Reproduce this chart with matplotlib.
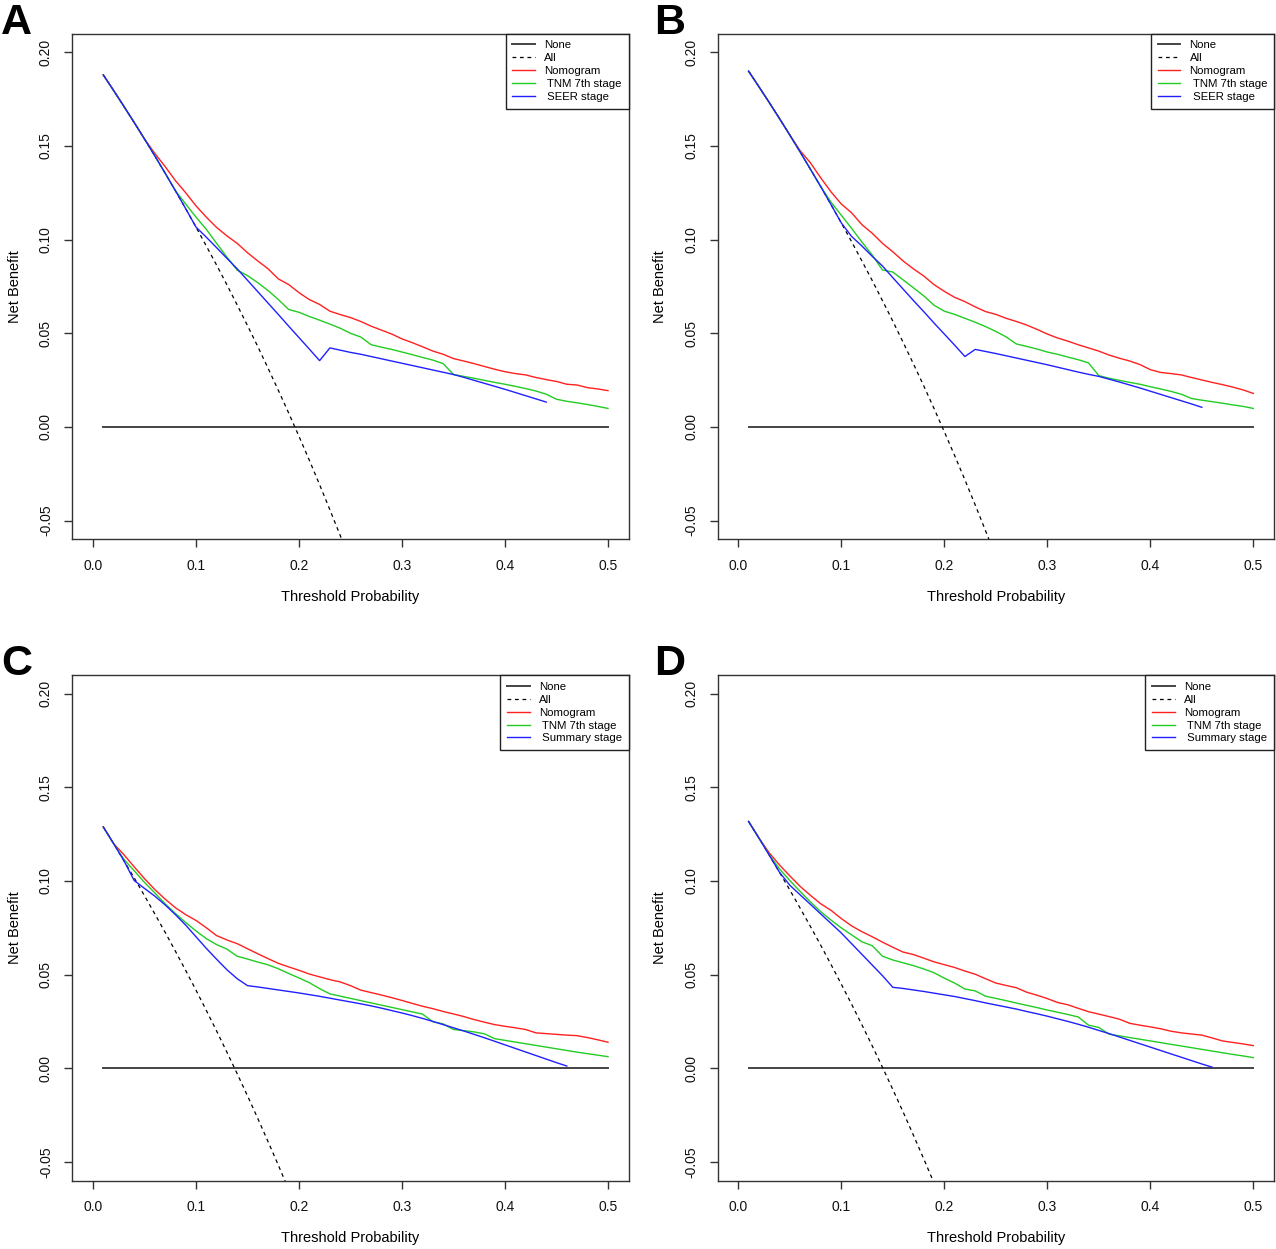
import numpy as np
import matplotlib.pyplot as plt

plt.rcParams["font.family"] = ["Liberation Sans", "DejaVu Sans"]

############################
# DATA
############################

# threshold grid used by the decision curves
thr = np.arange(1, 51) / 100

# Panel A
all_A = [0.1879, 0.1796, 0.1711, 0.1625, 0.1537, 0.1447, 0.1355, 0.1261, 0.1165, 0.1067,
         0.0966, 0.0864, 0.0759, 0.0651, 0.0541, 0.0429, 0.0313, 0.0195, 0.0074, -0.0050,
         -0.0177, -0.0308, -0.0442, -0.0579, -0.0720]
nomo_A = [0.1879, 0.1796, 0.1711, 0.1625, 0.1537, 0.1460, 0.1390, 0.1315, 0.1250, 0.1180,
          0.1120, 0.1065, 0.1020, 0.0980, 0.0930, 0.0886, 0.0844, 0.0790, 0.0760, 0.0717,
          0.0680, 0.0654, 0.0618, 0.0600, 0.0584, 0.0563, 0.0538, 0.0517, 0.0496, 0.0470,
          0.0450, 0.0428, 0.0405, 0.0388, 0.0365, 0.0352, 0.0338, 0.0323, 0.0308, 0.0295,
          0.0285, 0.0278, 0.0264, 0.0253, 0.0243, 0.0228, 0.0224, 0.0210, 0.0203, 0.0194]
tnm_A = [0.1879, 0.1796, 0.1711, 0.1625, 0.1537, 0.1447, 0.1355, 0.1261, 0.1190, 0.1120,
         0.1055, 0.0980, 0.0907, 0.0837, 0.0808, 0.0770, 0.0728, 0.0680, 0.0627, 0.0612,
         0.0590, 0.0570, 0.0549, 0.0527, 0.0500, 0.0480, 0.0439, 0.0426, 0.0414, 0.0400,
         0.0386, 0.0371, 0.0357, 0.0338, 0.0280, 0.0270, 0.0260, 0.0249, 0.0238, 0.0228,
         0.0217, 0.0205, 0.0192, 0.0175, 0.0148, 0.0137, 0.0129, 0.0120, 0.0110, 0.0099]
seer_A = [0.1879, 0.1796, 0.1711, 0.1625, 0.1537, 0.1447, 0.1355, 0.1261, 0.1165, 0.1067,
          0.1013, 0.0957, 0.0900, 0.0844, 0.0783, 0.0722, 0.0661, 0.0600, 0.0538, 0.0477,
          0.0416, 0.0354, 0.0422, 0.0410, 0.0398, 0.0388, 0.0376, 0.0364, 0.0352, 0.0340,
          0.0328, 0.0316, 0.0304, 0.0292, 0.0280, 0.0265, 0.0249, 0.0233, 0.0217, 0.0201,
          0.0184, 0.0167, 0.0150, 0.0133]

# Panel B
all_B = [0.1899, 0.1816, 0.1732, 0.1646, 0.1558, 0.1468, 0.1376, 0.1283, 0.1187, 0.1089,
         0.0989, 0.0886, 0.0782, 0.0674, 0.0565, 0.0452, 0.0337, 0.0220, 0.0099, -0.0025,
         -0.0152, -0.0282, -0.0416, -0.0553, -0.0693]
nomo_B = [0.1899, 0.1816, 0.1732, 0.1646, 0.1558, 0.1475, 0.1410, 0.1330, 0.1255, 0.1190,
          0.1143, 0.1080, 0.1034, 0.0980, 0.0935, 0.0886, 0.0844, 0.0806, 0.0760, 0.0724,
          0.0692, 0.0669, 0.0641, 0.0616, 0.0601, 0.0580, 0.0563, 0.0544, 0.0521, 0.0496,
          0.0475, 0.0458, 0.0439, 0.0422, 0.0405, 0.0384, 0.0367, 0.0352, 0.0333, 0.0306,
          0.0291, 0.0285, 0.0278, 0.0264, 0.0251, 0.0238, 0.0226, 0.0213, 0.0198, 0.0179]
tnm_B = [0.1899, 0.1816, 0.1732, 0.1646, 0.1558, 0.1468, 0.1376, 0.1283, 0.1200, 0.1130,
         0.1060, 0.0987, 0.0918, 0.0838, 0.0827, 0.0785, 0.0743, 0.0700, 0.0650, 0.0618,
         0.0601, 0.0580, 0.0559, 0.0536, 0.0510, 0.0481, 0.0443, 0.0430, 0.0416, 0.0400,
         0.0388, 0.0373, 0.0359, 0.0342, 0.0274, 0.0260, 0.0249, 0.0238, 0.0228, 0.0215,
         0.0203, 0.0190, 0.0175, 0.0152, 0.0143, 0.0135, 0.0127, 0.0118, 0.0110, 0.0099]
seer_B = [0.1899, 0.1816, 0.1732, 0.1646, 0.1558, 0.1468, 0.1376, 0.1283, 0.1187, 0.1089,
          0.1017, 0.0966, 0.0911, 0.0859, 0.0797, 0.0736, 0.0675, 0.0616, 0.0555, 0.0496,
          0.0437, 0.0376, 0.0414, 0.0403, 0.0392, 0.0380, 0.0368, 0.0356, 0.0344, 0.0332,
          0.0319, 0.0306, 0.0293, 0.0281, 0.0270, 0.0255, 0.0240, 0.0224, 0.0208, 0.0191,
          0.0174, 0.0157, 0.0140, 0.0123, 0.0105]

# Panel C
all_C = [0.1288, 0.1199, 0.1108, 0.1016, 0.0921, 0.0824, 0.0726, 0.0625, 0.0522, 0.0417,
         0.0309, 0.0199, 0.0086, -0.0029, -0.0147, -0.0268, -0.0392, -0.0518, -0.0648, -0.0781]
nomo_C = [0.1288, 0.1199, 0.1140, 0.1075, 0.1012, 0.0954, 0.0903, 0.0857, 0.0820, 0.0789,
          0.0750, 0.0708, 0.0685, 0.0665, 0.0638, 0.0611, 0.0585, 0.0560, 0.0541, 0.0523,
          0.0503, 0.0488, 0.0473, 0.0461, 0.0441, 0.0417, 0.0404, 0.0391, 0.0377, 0.0362,
          0.0346, 0.0331, 0.0318, 0.0303, 0.0290, 0.0276, 0.0260, 0.0246, 0.0233, 0.0224,
          0.0216, 0.0207, 0.0189, 0.0185, 0.0181, 0.0177, 0.0174, 0.0164, 0.0152, 0.0139]
tnm_C = [0.1288, 0.1199, 0.1115, 0.1054, 0.0992, 0.0936, 0.0878, 0.0826, 0.0778, 0.0733,
         0.0692, 0.0660, 0.0636, 0.0598, 0.0583, 0.0567, 0.0552, 0.0531, 0.0506, 0.0482,
         0.0457, 0.0425, 0.0397, 0.0385, 0.0373, 0.0361, 0.0349, 0.0337, 0.0325, 0.0313,
         0.0301, 0.0289, 0.0248, 0.0237, 0.0207, 0.0201, 0.0194, 0.0184, 0.0158, 0.0149,
         0.0140, 0.0131, 0.0122, 0.0113, 0.0104, 0.0095, 0.0086, 0.0078, 0.0070, 0.0062]
summ_C = [0.1288, 0.1199, 0.1108, 0.1002, 0.0960, 0.0919, 0.0872, 0.0820, 0.0764, 0.0702,
          0.0640, 0.0582, 0.0526, 0.0478, 0.0441, 0.0434, 0.0426, 0.0418, 0.0410, 0.0402,
          0.0393, 0.0384, 0.0374, 0.0364, 0.0354, 0.0344, 0.0333, 0.0321, 0.0308, 0.0295,
          0.0281, 0.0266, 0.0250, 0.0233, 0.0216, 0.0199, 0.0181, 0.0163, 0.0144, 0.0125,
          0.0106, 0.0087, 0.0068, 0.0049, 0.0030, 0.0012]

# Panel D
all_D = [0.1317, 0.1229, 0.1138, 0.1046, 0.0952, 0.0855, 0.0757, 0.0657, 0.0554, 0.0449,
         0.0342, 0.0232, 0.0120, 0.0005, -0.0113, -0.0233, -0.0357, -0.0483, -0.0612, -0.0745]
nomo_D = [0.1317, 0.1229, 0.1150, 0.1085, 0.1027, 0.0971, 0.0923, 0.0878, 0.0843, 0.0799,
          0.0760, 0.0729, 0.0702, 0.0673, 0.0646, 0.0620, 0.0607, 0.0588, 0.0568, 0.0553,
          0.0538, 0.0519, 0.0502, 0.0478, 0.0455, 0.0442, 0.0430, 0.0406, 0.0390, 0.0372,
          0.0351, 0.0339, 0.0320, 0.0302, 0.0289, 0.0276, 0.0262, 0.0240, 0.0230, 0.0221,
          0.0211, 0.0198, 0.0189, 0.0183, 0.0177, 0.0162, 0.0146, 0.0138, 0.0130, 0.0121]
tnm_D = [0.1317, 0.1229, 0.1140, 0.1064, 0.1002, 0.0944, 0.0888, 0.0836, 0.0791, 0.0749,
         0.0712, 0.0675, 0.0654, 0.0598, 0.0578, 0.0563, 0.0548, 0.0530, 0.0510, 0.0481,
         0.0455, 0.0423, 0.0413, 0.0385, 0.0373, 0.0361, 0.0348, 0.0336, 0.0324, 0.0311,
         0.0299, 0.0287, 0.0274, 0.0230, 0.0218, 0.0182, 0.0173, 0.0164, 0.0155, 0.0146,
         0.0137, 0.0128, 0.0119, 0.0110, 0.0101, 0.0092, 0.0083, 0.0074, 0.0066, 0.0057]
summ_D = [0.1317, 0.1229, 0.1138, 0.1046, 0.0977, 0.0926, 0.0875, 0.0824, 0.0773, 0.0722,
          0.0665, 0.0608, 0.0551, 0.0494, 0.0432, 0.0426, 0.0418, 0.0410, 0.0401, 0.0392,
          0.0383, 0.0372, 0.0361, 0.0349, 0.0338, 0.0327, 0.0316, 0.0303, 0.0291, 0.0278,
          0.0264, 0.0250, 0.0235, 0.0219, 0.0202, 0.0185, 0.0167, 0.0149, 0.0131, 0.0113,
          0.0095, 0.0077, 0.0059, 0.0041, 0.0023, 0.0006]

x_ticks = [0.0, 0.1, 0.2, 0.3, 0.4, 0.5]
x_tick_labels = ["0.0", "0.1", "0.2", "0.3", "0.4", "0.5"]
y_ticks = [-0.05, 0.0, 0.05, 0.10, 0.15, 0.20]
y_tick_labels = ["-0.05", "0.00", "0.05", "0.10", "0.15", "0.20"]

############################
# LAYOUT (pixels of the 1276x1249 figure)
############################

W, H = 1276, 1249


def rect(left, right, top, bottom):
    return [left / W, 1 - bottom / H, (right - left) / W, (bottom - top) / H]


def panel(fig, box, letter, letter_xy, all_y, nomo, tnm, third, third_label):
    ax = fig.add_axes(box)
    ax.plot([0.01, 0.5], [0, 0], color="#444444", lw=1.4, label="None")
    ax.plot(thr[:len(all_y)], all_y, color="black", ls=(0, (3, 3)), lw=0.9, label="All")
    ax.plot(thr[:len(nomo)], nomo, color="#FF2020", lw=1.0, label="Nomogram")
    ax.plot(thr[:len(tnm)], tnm, color="#22CC22", lw=1.0, label=" TNM 7th stage")
    ax.plot(thr[:len(third)], third, color="#2020FF", lw=1.0, label=third_label)

    ax.set_xlim(-0.02, 0.52)
    ax.set_ylim(-0.06, 0.21)
    ax.set_xticks(x_ticks)
    ax.set_xticklabels(x_tick_labels)
    ax.set_yticks(y_ticks)
    ax.set_yticklabels(y_tick_labels, rotation=90, va="center")
    ax.tick_params(direction="out", length=6, width=1, color="#333333",
                   labelsize=10, labelcolor="#111111", pad=8)
    for s in ax.spines.values():
        s.set_color("#333333")
        s.set_linewidth(1.0)

    ax.set_xlabel("Threshold Probability", fontsize=10.5, va="center")
    ax.xaxis.set_label_coords(0.5, -0.114)
    ax.set_ylabel("Net Benefit", fontsize=10.5, va="center")
    ax.yaxis.set_label_coords(-0.103, 0.5)

    leg = ax.legend(loc="upper right", borderaxespad=0, fontsize=8.2, fancybox=False,
                    framealpha=1, edgecolor="#222222", handlelength=2.0,
                    handletextpad=0.8, labelspacing=0.26, borderpad=0.6)
    leg.get_frame().set_linewidth(1.0)

    fig.text(letter_xy[0] / W, 1 - letter_xy[1] / H, letter, fontsize=31,
             fontweight="bold", ha="left", va="top")
    return ax


fig = plt.figure(figsize=(W / 100, H / 100), dpi=100)

panel(fig, rect(72.4, 628.6, 33.5, 539.4), "A", (1, 3),
      all_A, nomo_A, tnm_A, seer_A, " SEER stage")
panel(fig, rect(717.7, 1273.9, 33.5, 539.4), "B", (654, 3),
      all_B, nomo_B, tnm_B, seer_B, " SEER stage")
panel(fig, rect(72.4, 628.6, 674.8, 1180.7), "C", (1, 644),
      all_C, nomo_C, tnm_C, summ_C, " Summary stage")
panel(fig, rect(717.7, 1273.9, 674.8, 1180.7), "D", (654, 644),
      all_D, nomo_D, tnm_D, summ_D, " Summary stage")

fig.savefig("out.png", dpi=100)
